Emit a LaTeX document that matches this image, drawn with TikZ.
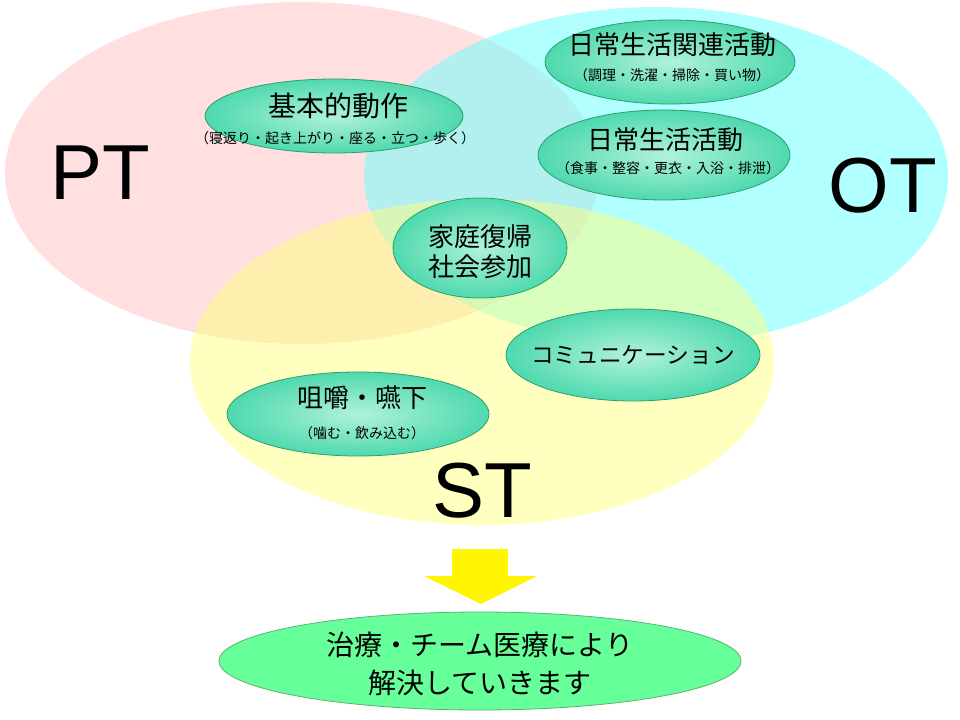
\documentclass[tikz,border=0pt]{standalone}
\usepackage{fontspec}
\setmainfont{Noto Sans CJK JP}
\newfontfamily\latinfont{Liberation Sans}
\usetikzlibrary{shapes.geometric}

\definecolor{ptpink}{HTML}{FFC0C0}
\definecolor{otcyan}{HTML}{66FFFF}
\definecolor{styellow}{HTML}{FFFF80}
\definecolor{bubbleedge}{HTML}{2E9E6E}
\definecolor{bubblein}{HTML}{B0F2DC}
\definecolor{bubbleout}{HTML}{4FD9AE}
\definecolor{goalgreen}{HTML}{66FF99}
\definecolor{goaledge}{HTML}{5FAF70}
\definecolor{arrowyellow}{HTML}{FFF500}

\tikzset{
  area/.style={fill opacity=0.5, draw=none},
  bubble/.style={ellipse, draw=bubbleedge, line width=0.6pt, inner color=bubblein, outer color=bubbleout, inner sep=0pt},
  maintext/.style={font=\fontsize{19.5}{22.5}\selectfont, inner sep=0pt, align=center},
  subtext/.style={font=\fontsize{10.5}{12}\selectfont, inner sep=0pt},
  bigtext/.style={font=\latinfont\fontsize{58.5}{60}\selectfont, inner sep=0pt},
}

\begin{document}
\begin{tikzpicture}[x=0.75pt, y=-0.75pt]
    \useasboundingbox (0,0) rectangle (960,720);

    % three areas
    \fill [area, fill=ptpink]   (302,173) ellipse [x radius=297, y radius=171];
    \fill [area, fill=otcyan]   (656,176) ellipse [x radius=292, y radius=169];
    \fill [area, fill=styellow] (482,362) ellipse [x radius=292, y radius=163];

    \node [bigtext] (pt) at (100,173) {PT};
    \node [bigtext] (ot) at (883,186) {OT};
    \node [bigtext] (st) at (482,491) {ST};

    % items
    \node [bubble, minimum width=193.5pt, minimum height=55.5pt] (kihon) at (334,116) {};
    \node [maintext, font=\fontsize{21}{24}\selectfont] (kihonT) at (338,106) {基本的動作};
    \node [subtext] (kihonS) at (335,138) {（寝返り・起き上がり・座る・立つ・歩く）};

    \node [bubble, minimum width=187.5pt, minimum height=63pt] (kanren) at (670,62) {};
    \node [maintext] (kanrenT) at (672,45) {日常生活関連活動};
    \node [subtext] (kanrenS) at (672,75) {（調理・洗濯・掃除・買い物）};

    \node [bubble, minimum width=189pt, minimum height=67.5pt] (nichijo) at (664,155) {};
    \node [maintext] (nichijoT) at (665,140) {日常生活活動};
    \node [subtext] (nichijoS) at (668,168) {（食事・整容・更衣・入浴・排泄）};

    \node [bubble, minimum width=130.5pt, minimum height=75pt] (katei) at (480,248) {};
    \node [maintext] (kateiT) at (480,252) {家庭復帰\\社会参加};

    \node [bubble, minimum width=190.5pt, minimum height=69pt] (komyu) at (633,355) {};
    \node [maintext, font=\fontsize{17}{20}\selectfont] (komyuT) at (633,355) {コミュニケーション};

    \node [bubble, minimum width=196.5pt, minimum height=63pt] (soshaku) at (358,414) {};
    \node [maintext] (soshakuT) at (362,398) {咀嚼・嚥下};
    \node [subtext] (soshakuS) at (362,433) {（噛む・飲み込む）};

    % arrow and result
    \coordinate (tip) at (481,604);
    \fill [arrowyellow] (452,549) -- (508,549) -- (508,576) -- (537,576) -- (tip) -- (424,576) -- (452,576) -- cycle;

    \node [ellipse, draw=goaledge, fill=goalgreen, line width=0.6pt, inner sep=0pt,
           minimum width=391.5pt, minimum height=73.5pt] (goal) at (480,661) {};
    \node [maintext, font=\fontsize{21}{28.5}\selectfont] (goalT) at (480,664) {治療・チーム医療により\\解決していきます};
\end{tikzpicture}
\end{document}
